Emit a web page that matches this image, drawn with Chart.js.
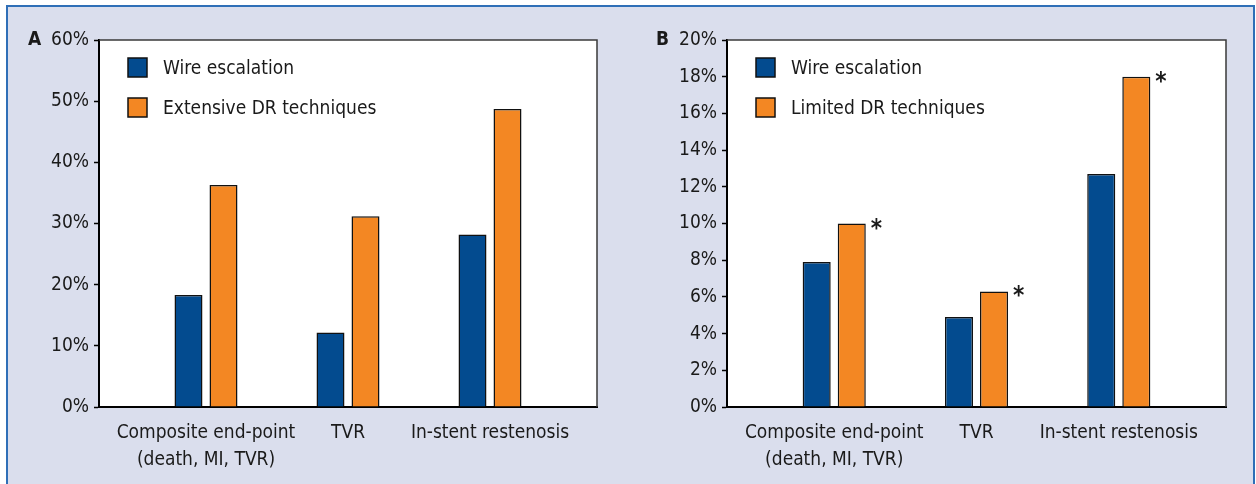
<!DOCTYPE html>
<html lang="en">
<head>
<meta charset="UTF-8">
<title>Wire escalation vs DR techniques</title>
<script src="https://cdn.jsdelivr.net/npm/chart.js"></script>
<style>
  html, body { margin: 0; padding: 0; background: #fff; }
  #frame { position: absolute; left: 6px; top: 5px; width: 1245px; height: 479px;
           background: #dadeed; border: 2px solid #2f6fb7; border-bottom: none; }
  canvas { position: absolute; top: 0; }
  #chartA { left: 0; }
  #chartB { left: 628px; }
</style>
</head>
<body>
<div id="frame"></div>
<canvas id="chartA" width="620" height="484"></canvas>
<canvas id="chartB" width="628" height="484"></canvas>
<script>
// categories shared by both panels
const categories = [['Composite end-point', '(death, MI, TVR)'], 'TVR', 'In-stent restenosis'];

// panel A
const seriesA = ['Wire escalation', 'Extensive DR techniques'];
const wireA = [18.3, 12.2, 28.2];
const extensiveDR = [36.3, 31.2, 48.7];
const yMaxA = 60, yStepA = 10;

// panel B
const seriesB = ['Wire escalation', 'Limited DR techniques'];
const wireB = [7.9, 4.9, 12.7];
const limitedDR = [10.0, 6.3, 18.0];
const starsB = [true, true, true];   // * next to limited DR bars
const yMaxB = 20, yStepB = 2;

const BLUE = '#034b8f';
const ORANGE = '#f38723';
const INK = '#1a1a1a';
const FONT = "'Liberation Sans Narrow', 'Arial Narrow', 'DejaVu Sans Condensed', sans-serif";
const SIZE = 19;

Chart.defaults.font.family = FONT;
Chart.defaults.font.size = SIZE;
Chart.defaults.color = INK;

const panelPlugin = {
  id: 'panel',
  beforeDraw(chart) {
    const { ctx, chartArea: a } = chart;
    ctx.save();
    ctx.fillStyle = '#fff';
    ctx.fillRect(a.left, a.top, a.right - a.left, a.bottom - a.top);
    ctx.restore();
  },
  afterDraw(chart, args, opts) {
    const { ctx, chartArea: a } = chart;
    ctx.save();
    // top and right frame of the plot box
    ctx.strokeStyle = '#3a3a3a';
    ctx.lineWidth = 1.5;
    ctx.beginPath();
    ctx.moveTo(a.left, a.top);
    ctx.lineTo(a.right, a.top);
    ctx.lineTo(a.right, a.bottom);
    ctx.stroke();

    // panel letter
    ctx.fillStyle = INK;
    ctx.font = 'bold ' + SIZE + 'px ' + FONT;
    ctx.textBaseline = 'middle';
    ctx.textAlign = 'left';
    ctx.fillText(opts.letter, 28, a.top);

    // legend
    ctx.font = SIZE + 'px ' + FONT;
    [BLUE, ORANGE].forEach((c, i) => {
      const y = a.top + 18 + i * 40;
      ctx.fillStyle = c;
      ctx.fillRect(a.left + 29, y, 19, 19);
      ctx.strokeStyle = '#111';
      ctx.lineWidth = 1.5;
      ctx.strokeRect(a.left + 29, y, 19, 19);
      ctx.fillStyle = INK;
      ctx.fillText(opts.names[i], a.left + 64, y + 11);
    });

    // significance stars
    if (opts.stars) {
      const meta = chart.getDatasetMeta(1);
      ctx.font = 'bold 24px ' + FONT;
      ctx.textBaseline = 'alphabetic';
      opts.stars.forEach((s, i) => {
        if (!s) return;
        const bar = meta.data[i];
        ctx.fillText('*', bar.x + bar.width / 2 + 5, bar.y + 12);
      });
    }
    ctx.restore();
  }
};

function makeChart(id, names, wire, dr, yMax, yStep, letter, stars, padRight) {
  const toPoints = arr => arr.map((v, i) => ({ x: i, y: v }));
  new Chart(document.getElementById(id), {
    type: 'bar',
    data: {
      datasets: [
        { label: names[0], data: toPoints(wire), backgroundColor: BLUE, borderColor: '#111', borderWidth: 1.5,
          categoryPercentage: 0.493, barPercentage: 0.8 },
        { label: names[1], data: toPoints(dr), backgroundColor: ORANGE, borderColor: '#111', borderWidth: 1.5,
          categoryPercentage: 0.493, barPercentage: 0.8 }
      ]
    },
    options: {
      responsive: false,
      animation: false,
      layout: { padding: { top: 40, right: padRight, left: 0, bottom: 0 } },
      scales: {
        x: {
          type: 'linear',
          min: -0.7535,
          max: 2.7535,
          offset: false,
          grid: { display: false, drawTicks: false },
          border: { display: true, color: '#000', width: 2 },
          ticks: {
            stepSize: 1, includeBounds: false, autoSkip: false, maxRotation: 0,
            padding: 13, color: INK, font: { size: SIZE, lineHeight: 1.4 },
            callback: v => categories[v] ?? ''
          },
          afterFit: s => { s.height = 77; }
        },
        y: {
          min: 0,
          max: yMax,
          grid: { drawOnChartArea: false, tickLength: 5, tickColor: '#000', tickWidth: 1.5 },
          border: { color: '#000', width: 2 },
          ticks: { stepSize: yStep, padding: 5, color: INK, callback: v => v + '%' },
          afterFit: s => { s.width = 99; }
        }
      },
      plugins: {
        legend: { display: false },
        tooltip: { enabled: false },
        panel: { letter: letter, names: names, stars: stars }
      }
    },
    plugins: [panelPlugin]
  });
}

makeChart('chartA', seriesA, wireA, extensiveDR, yMaxA, yStepA, 'A', null, 23);
makeChart('chartB', seriesB, wireB, limitedDR, yMaxB, yStepB, 'B', starsB, 30);
</script>
</body>
</html>
